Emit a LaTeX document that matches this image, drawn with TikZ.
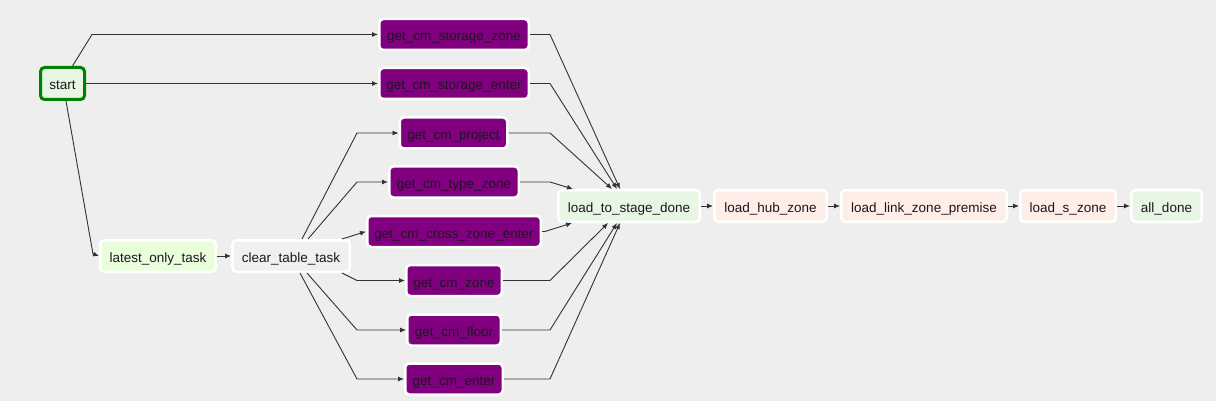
\documentclass[tikz,border=0pt]{standalone}
\usepackage{fontspec}
\setmainfont{Liberation Sans}
\usetikzlibrary{arrows.meta}
\definecolor{bgcol}{RGB}{238,238,238}
\definecolor{airpurple}{RGB}{128,0,128}
\definecolor{edgecol}{RGB}{51,51,51}
\definecolor{dummyfill}{RGB}{232,246,228}
\definecolor{latestfill}{RGB}{233,255,219}
\definecolor{clearfill}{RGB}{241,240,240}
\definecolor{loadfill}{RGB}{253,238,232}
\definecolor{okgreen}{RGB}{0,128,0}
\definecolor{txt}{RGB}{30,20,30}
\newcommand{\fs}{\fontsize{13.5}{16}\selectfont}
\tikzset{
  base/.style={rounded corners=4pt, font=\fs, text=txt, inner sep=0pt, text height=15pt, text depth=2pt, draw=white, line width=2.5pt},
  op/.style={base, fill=airpurple, minimum height=31pt},
  dum/.style={base, fill=dummyfill, minimum height=31.5pt},
  lat/.style={base, fill=latestfill, minimum height=31.5pt},
  clr/.style={base, fill=clearfill, minimum height=31.5pt},
  ld/.style={base, fill=loadfill, minimum height=31.5pt},
  edge/.style={draw=edgecol, line width=0.9pt, -{Latex[length=6pt,width=5pt]}},
}
\begin{document}
\begin{tikzpicture}[x=1pt,y=-1pt]
\path[fill=bgcol] (0,0) rectangle (1216,401);
\useasboundingbox (0,0) rectangle (1216,401);
% nodes
\node[dum, draw=okgreen, line width=3pt, minimum width=44pt, minimum height=32pt] (start) at (62.5,83.5) {start};
\node[op, minimum width=149.5pt] (gsz) at (454,34.5) {get\_cm\_storage\_zone};
\node[op, minimum width=149.5pt] (gse) at (454,83.5) {get\_cm\_storage\_enter};
\node[op, minimum width=107.5pt] (gp) at (453.5,133) {get\_cm\_project};
\node[op, minimum width=129.5pt] (gtz) at (454,182) {get\_cm\_type\_zone};
\node[op, minimum width=173.5pt] (gcze) at (454,231.5) {get\_cm\_cross\_zone\_enter};
\node[op, minimum width=95.5pt] (gz) at (454,280.5) {get\_cm\_zone};
\node[op, minimum width=93.5pt] (gf) at (454,330) {get\_cm\_floor};
\node[op, minimum width=97.5pt] (ge) at (454,379) {get\_cm\_enter};
\node[lat, minimum width=115.5pt] (lot) at (158,256) {latest\_only\_task};
\node[clr, minimum width=117.5pt] (ctt) at (291,256) {clear\_table\_task};
\node[dum, minimum width=141.5pt] (lts) at (629,206) {load\_to\_stage\_done};
\node[ld, minimum width=112.5pt] (lhz) at (770.5,206) {load\_hub\_zone};
\node[ld, minimum width=165.5pt] (llzp) at (924,206) {load\_link\_zone\_premise};
\node[ld, minimum width=95.5pt] (lsz) at (1068,206) {load\_s\_zone};
\node[dum, minimum width=70.5pt] (ad) at (1166.5,206) {all\_done};
% edges from start
\draw[edge] ([xshift=10pt]start.north) -- (92,34.5) -- (gsz.west);
\draw[edge] (start.east) -- (gse.west);
\draw[edge] ([xshift=3.5pt]start.south) -- (93,254) -- (lot.west);
\draw[edge] (lot.east) -- (ctt.west);
% edges from clear_table_task
\draw[edge] ([xshift=11pt]ctt.north) -- (357,133) -- (gp.west);
\draw[edge] ([xshift=17pt]ctt.north) -- (357,182) -- (gtz.west);
\draw[edge] ([xshift=51pt]ctt.north) -- (gcze.west);
\draw[edge] ([xshift=51pt]ctt.south) -- (357,280.5) -- (gz.west);
\draw[edge] ([xshift=16pt]ctt.south) -- (357,330) -- (gf.west);
\draw[edge] ([xshift=9pt]ctt.south) -- (357,379) -- (ge.west);
% edges into load_to_stage_done
\draw[edge] (gsz.east) -- (550,34.5) -- ([xshift=63pt]lts.north west);
\draw[edge] (gse.east) -- (550,83.5) -- ([xshift=60pt]lts.north west);
\draw[edge] (gp.east) -- (550,133) -- ([xshift=55pt]lts.north west);
\draw[edge] (gtz.east) -- (550,182) -- ([xshift=16pt]lts.north west);
\draw[edge] (gcze.east) -- (545,231.5) -- ([xshift=15pt]lts.south west);
\draw[edge] (gz.east) -- (550,280.5) -- ([xshift=51pt]lts.south west);
\draw[edge] (gf.east) -- (550,330) -- ([xshift=60pt]lts.south west);
\draw[edge] (ge.east) -- (550,379) -- ([xshift=63pt]lts.south west);
% chain
\draw[edge] (lts.east) -- (lhz.west);
\draw[edge] (lhz.east) -- (llzp.west);
\draw[edge] (llzp.east) -- (lsz.west);
\draw[edge] (lsz.east) -- (ad.west);
\end{tikzpicture}
\end{document}
